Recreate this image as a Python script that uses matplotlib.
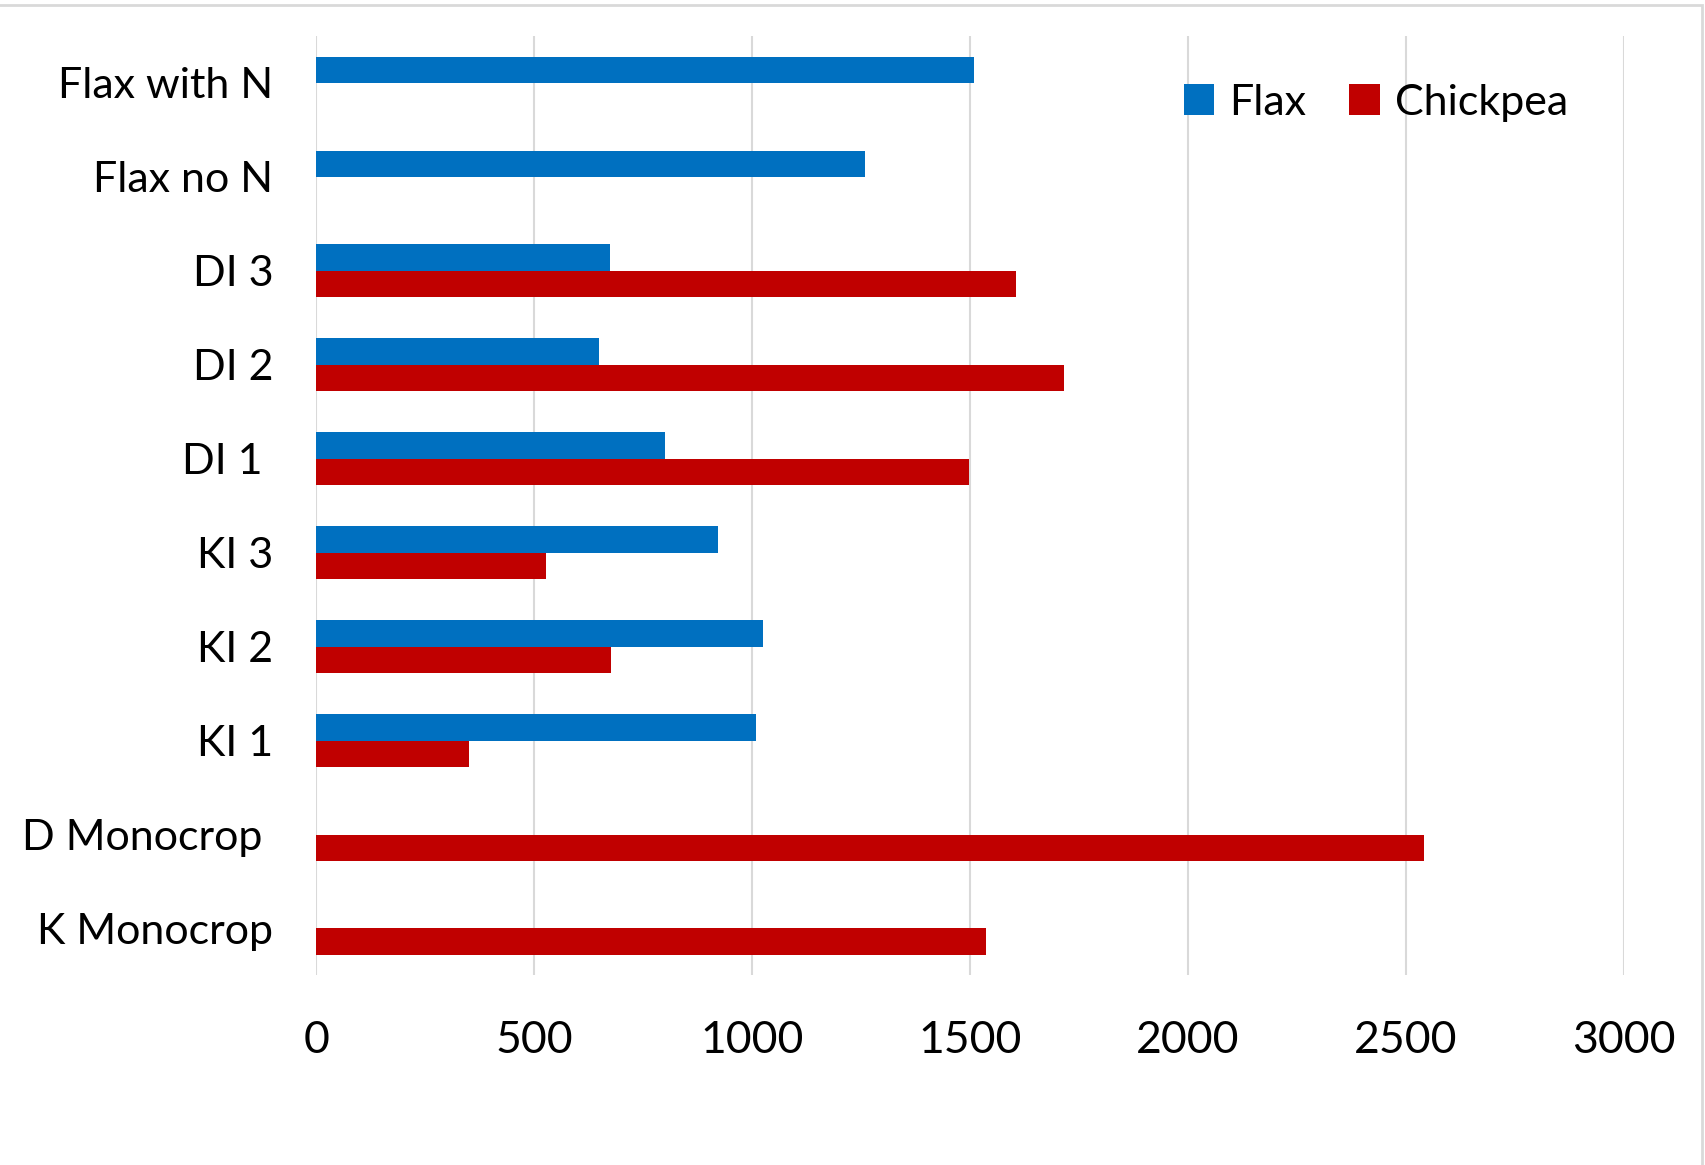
import numpy as np
from matplotlib import pyplot as plt
from matplotlib.patches import Rectangle

# treatments, top to bottom
treatments = ['Flax with N', 'Flax no N', 'DI 3', 'DI 2', 'DI 1 ',
              'KI 3', 'KI 2', 'KI 1', 'D Monocrop ', 'K Monocrop']
flax = [1510, 1260, 674, 649, 799, 921, 1026, 1008, np.nan, np.nan]
chickpea = [np.nan, np.nan, 1605, 1715, 1497, 527, 676, 349, 2541, 1537]
xticks = [0, 500, 1000, 1500, 2000, 2500, 3000]

blue = '#0070C0'
red = '#C00000'
grid_col = '#D9D9D9'

plt.rcParams['font.family'] = ['Lato', 'DejaVu Sans']

fig = plt.figure(figsize=(17.05, 11.65), dpi=100)
ax = fig.add_axes([0.1856, 0.1627, 0.9522 - 0.1856, 0.9692 - 0.1627])

h = 0.28
y = np.arange(len(treatments))
ax.barh(y - h / 2, flax, height=h, color=blue, label='Flax')
ax.barh(y + h / 2, chickpea, height=h, color=red, label='Chickpea')

ax.set_ylim(len(treatments) - 0.5, -0.5)
ax.set_xlim(0, 3000)
ax.set_yticks(y)
ax.set_yticklabels(treatments)
ax.set_xticks(xticks)
ax.set_xticklabels([str(v) for v in xticks])
ax.tick_params(axis='y', length=0, pad=31, labelsize=31)
ax.tick_params(axis='x', length=0, pad=32, labelsize=32)

for s in ax.spines.values():
    s.set_visible(False)
ax.set_axisbelow(True)
ax.xaxis.grid(True, color=grid_col, linewidth=1.5)

fig.legend(loc='center', bbox_to_anchor=(0.807, 0.912), ncol=2, frameon=False,
           fontsize=31, handlelength=0.7, handleheight=0.7, handletextpad=0.35,
           columnspacing=1.0)

# thin frame round the chart area
fig.patches.append(Rectangle((-0.01, -0.01), 0.9982 + 0.01, 0.9957 + 0.01,
                             transform=fig.transFigure, fill=False,
                             edgecolor=grid_col, linewidth=2))

fig.savefig('out.png', dpi=100)
